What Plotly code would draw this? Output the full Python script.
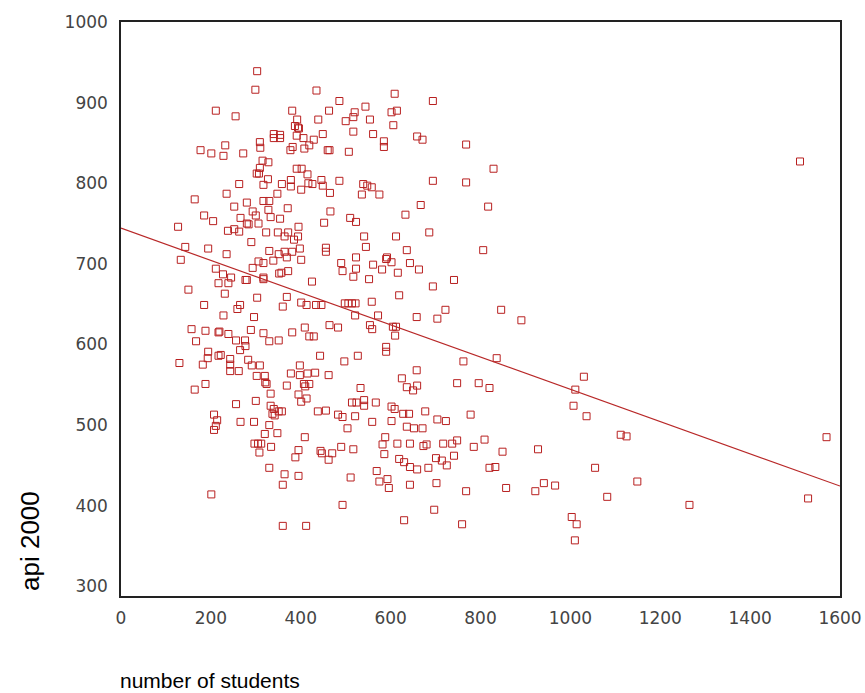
import plotly.graph_objects as go

# number of students (enroll) and api 2000 (api00)
enroll = [
    303, 299, 435, 486, 211, 255, 381, 463, 392, 439, 520, 517, 500, 387, 394, 396, 517,
    340, 354, 340, 354, 391, 406, 449, 429, 309, 232, 177, 201, 228, 272, 310, 382, 377,
    408, 419, 460, 464, 507, 315, 328, 309, 302, 307, 391, 402, 415, 327, 263, 317, 358,
    378, 378, 401, 417, 426, 446, 449, 486, 465, 235, 348, 164,
    609, 694, 544, 554, 602, 614, 606, 561, 585, 585, 659, 671, 768, 829, 694, 768, 539,
    548, 558, 536, 575,
    1511,
    280, 317, 330, 252, 293, 300, 328, 371, 466, 185, 205, 266, 280, 284, 306, 333, 354,
    395, 452, 510, 523, 127, 238, 252, 263, 323, 349, 364, 372, 385, 394, 290, 143, 194,
    235, 330, 351, 364, 381, 398, 456, 456, 369, 133, 211, 306, 317, 339, 401, 490, 493,
    523, 523, 227, 245, 293, 352, 357, 372, 217, 239, 277, 280, 317, 317, 425, 517, 150,
    231, 303, 369, 185, 265, 259, 360, 401, 413, 434, 446, 498, 506, 514, 522, 521, 228,
    296, 157, 188, 217, 219, 239, 289, 317, 381, 409, 419, 429, 464, 483, 167, 256, 276,
    277, 330, 351, 265, 194, 193, 182, 217, 222, 243, 243, 243, 283, 291, 309, 262, 398,
    443, 497, 527, 130, 378, 398, 415, 432, 462, 302, 320, 321, 324, 188, 369, 407, 419,
    410, 164,
    667, 817, 633, 541, 612, 686, 545, 636, 806, 590, 592, 602, 561, 581, 643, 663, 552,
    616, 741, 694, 558, 619, 572, 658, 704, 722, 846, 891, 554, 559, 605, 612, 610, 590,
    590, 762, 836, 658, 625, 1030, 533, 636, 659, 650, 748, 796, 820, 1011,
    256, 300, 333, 333, 340, 337, 342, 351, 358, 395, 401, 413, 438, 456, 483, 493, 514,
    524, 521, 207, 214, 211, 207, 266, 296, 330, 348, 320, 409, 504, 297, 305, 312, 308,
    334, 395, 388, 444, 447, 470, 462, 490, 517, 330, 364, 395, 360, 511, 201, 493, 360,
    412,
    541, 541, 567, 602, 609, 628, 641, 677, 602, 636, 652, 671, 704, 723, 778, 559, 588,
    582, 615, 643, 673, 680, 717, 737, 748, 809, 785, 849, 928, 586, 619, 630, 643, 659,
    684, 701, 714, 725, 741, 820, 833, 1055, 569, 575, 593, 596, 643, 702, 768, 857, 922,
    941, 966, 697, 630, 759, 1003, 1014, 1010, 1007, 1036,
    1112, 1125, 1149, 1082, 1265, 1529, 1570,
]
api00 = [
    939, 916, 915, 902, 890, 883, 890, 890, 879, 879, 888, 882, 877, 871, 869, 868, 864,
    861, 860, 856, 856, 859, 856, 861, 854, 851, 847, 841, 837, 834, 837, 844, 845, 841,
    843, 847, 841, 841, 839, 828, 826, 819, 812, 812, 818, 818, 811, 805, 799, 798, 799,
    804, 796, 792, 800, 799, 804, 797, 803, 788, 787, 787, 780,
    911, 902, 895, 879, 888, 890, 872, 861, 852, 845, 858, 854, 848, 818, 803, 801, 799,
    797, 795, 786, 786,
    827,
    776, 778, 778, 771, 765, 760, 767, 769, 765, 760, 753, 757, 750, 749, 750, 758, 756,
    746, 751, 757, 752, 746, 741, 743, 740, 739, 739, 734, 739, 730, 734, 727, 721, 719,
    712, 716, 712, 715, 715, 719, 720, 715, 708, 705, 694, 703, 701, 704, 705, 701, 691,
    708, 694, 687, 683, 695, 688, 689, 691, 676, 676, 680, 680, 683, 681, 678, 684, 668,
    663, 658, 659, 649, 649, 644, 647, 652, 649, 649, 649, 651, 651, 651, 651, 636, 636,
    634, 619, 617, 615, 616, 613, 618, 614, 615, 621, 610, 610, 624, 621, 604, 605, 605,
    598, 604, 605, 593, 591, 583, 575, 586, 587, 582, 575, 567, 581, 574, 574, 567, 574,
    586, 579, 586, 577, 564, 562, 564, 565, 562, 561, 561, 553, 551, 551, 549, 551, 551,
    548, 544,
    773, 771, 761, 734, 734, 739, 721, 717, 717, 706, 708, 702, 699, 693, 701, 693, 681,
    689, 680, 672, 653, 661, 636, 634, 632, 643, 643, 630, 624, 619, 622, 622, 611, 597,
    591, 579, 583, 568, 558, 560, 546, 547, 549, 543, 552, 552, 546, 544,
    526, 530, 539, 524, 520, 514, 512, 517, 517, 538, 529, 533, 517, 518, 513, 510, 528,
    528, 511, 513, 506, 499, 494, 504, 504, 500, 490, 489, 485, 496, 477, 477, 477, 466,
    473, 469, 460, 468, 465, 465, 457, 473, 470, 447, 439, 437, 426, 435, 414, 401, 375,
    375,
    531, 524, 528, 523, 520, 514, 514, 517, 505, 498, 496, 496, 507, 505, 513, 504, 485,
    476, 477, 477, 474, 476, 477, 477, 481, 482, 473, 467, 470, 464, 458, 454, 448, 445,
    447, 459, 456, 450, 462, 447, 448, 447, 443, 430, 433, 422, 426, 428, 418, 422, 418,
    428, 425, 395, 382, 377, 386, 377, 357, 524, 511,
    488, 486, 430, 411, 401, 409, 485,
]

# fitted regression line
fit_intercept = 744.25
fit_slope = -0.1999
x_range = [0, 1600]
y_range = [288, 1000]

x_ticks = [0, 200, 400, 600, 800, 1000, 1200, 1400, 1600]
y_ticks = [300, 400, 500, 600, 700, 800, 900, 1000]

fig = go.Figure()
fig.add_trace(go.Scatter(
    x=enroll, y=api00, mode="markers",
    marker=dict(symbol="square-open", size=7, color="#b82020", line=dict(width=1, color="#b82020")),
    showlegend=False, hoverinfo="x+y",
))
fig.add_trace(go.Scatter(
    x=x_range, y=[fit_intercept + fit_slope * v for v in x_range], mode="lines",
    line=dict(color="#b82828", width=1.2), showlegend=False, hoverinfo="skip",
))

tick_font = dict(family="DejaVu Sans", size=17, color="#444444")
fig.update_layout(
    width=865, height=693,
    margin=dict(l=121, r=25, t=22, b=97),
    paper_bgcolor="white", plot_bgcolor="white",
    xaxis=dict(range=x_range, tickvals=x_ticks, ticktext=[str(v) for v in x_ticks],
               showgrid=False, zeroline=False, showline=True, mirror=True, automargin=False,
               linecolor="#222222", linewidth=1.5, ticks="outside", ticklen=6,
               tickcolor="rgba(0,0,0,0)", tickfont=tick_font),
    yaxis=dict(range=y_range, tickvals=y_ticks, ticktext=[str(v) for v in y_ticks],
               showgrid=False, zeroline=False, showline=True, mirror=True, automargin=False,
               linecolor="#222222", linewidth=1.5, ticks="outside", ticklen=8,
               tickcolor="rgba(0,0,0,0)", tickfont=tick_font),
    annotations=[
        dict(text="number of students", xref="paper", yref="paper",
             x=-0.004, y=-0.1480, xanchor="left", yanchor="middle", showarrow=False,
             font=dict(family="Liberation Sans, Arial, sans-serif", size=21, color="#000000")),
        dict(text="api 2000", xref="paper", yref="paper", textangle=-90,
             x=-0.1266, y=0.0958, xanchor="center", yanchor="middle", showarrow=False,
             font=dict(family="Liberation Sans, Arial, sans-serif", size=26, color="#000000")),
    ],
)

fig.write_html("out.html", config={"displayModeBar": False},
               post_script="document.body.style.margin='0';document.body.style.overflow='hidden';")
